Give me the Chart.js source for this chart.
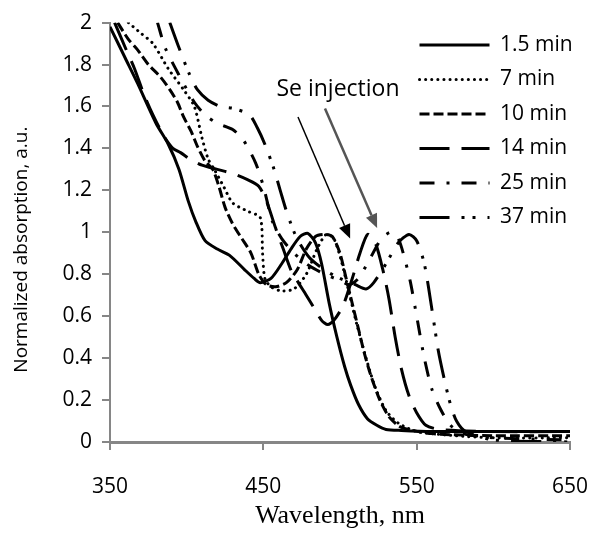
<!DOCTYPE html>
<html>
<head>
<meta charset="utf-8">
<script src="https://cdn.jsdelivr.net/npm/chart.js@4.4.0/dist/chart.umd.min.js"></script>
<style>
html,body{margin:0;padding:0;background:#fff;}
#wrap{width:592px;height:533px;}
</style>
</head>
<body>
<div id="wrap"><canvas id="canvas"></canvas></div>
<script>
// series labels
const seriesNames = ['1.5 min', '7 min', '10 min', '14 min', '25 min', '37 min'];

// wavelength (nm) / normalized absorption
const wl_1_5 = [350,360,368,380,388,395,401,406,412,420,428,438,444,448,455,462,468,474,479,484,488,493,498,503,507,512,518,524,530,540,560,600,650];
const ab_1_5 = [1.98,1.83,1.71,1.52,1.42,1.30,1.15,1.05,0.96,0.92,0.89,0.82,0.78,0.76,0.78,0.85,0.92,0.98,0.995,0.95,0.85,0.66,0.50,0.36,0.27,0.18,0.11,0.08,0.06,0.055,0.05,0.05,0.05];

const wl_7 = [362,370,378,388,398,405,410,414,418,424,430,440,448,449.5,451,455,462,470,478,485,491,496,501,506,511,517,523,530,538,550,575,600,650];
const ab_7 = [2.0,1.95,1.90,1.78,1.68,1.60,1.45,1.35,1.30,1.22,1.14,1.10,1.07,0.90,0.78,0.74,0.72,0.73,0.80,0.92,0.99,0.97,0.86,0.71,0.56,0.40,0.26,0.15,0.09,0.05,0.03,0.02,0.02];

const wl_10 = [355,362,368,375,383,389,394,398,403,407,412,417,421,425,430,436,442,447,452,458,465,472,478,484,490,495,500,504,508,512,516,520,526,532,540,560,600,650];
const ab_10 = [2.0,1.92,1.87,1.80,1.74,1.68,1.62,1.55,1.48,1.41,1.34,1.30,1.22,1.12,1.04,0.97,0.90,0.80,0.75,0.74,0.76,0.82,0.92,0.98,0.99,0.98,0.90,0.78,0.66,0.54,0.42,0.32,0.20,0.12,0.07,0.04,0.03,0.03];

const wl_14 = [353,360,366,372,378,385,391,396,402,410,420,430,440,447,452,458,463,468,472,478,483,488,492,496,502,508,513,518,523,528,532,536,540,545,550,556,565,600,650];
const ab_14 = [2.0,1.88,1.78,1.66,1.56,1.46,1.40,1.38,1.35,1.32,1.30,1.28,1.25,1.22,1.15,1.02,0.92,0.82,0.77,0.70,0.64,0.58,0.56,0.58,0.65,0.78,0.90,0.99,0.95,0.82,0.68,0.50,0.35,0.22,0.14,0.08,0.06,0.05,0.05];

const wl_25 = [381,386,395,405,412,420,430,437,445,450,456,462,470,480,490,500,506,512,520,527,533,538,542,546,550,555,560,566,572,580,600,650];
const ab_25 = [2.0,1.88,1.75,1.62,1.56,1.52,1.49,1.44,1.33,1.22,1.05,0.97,0.90,0.84,0.80,0.77,0.75,0.78,0.88,0.97,1.0,0.97,0.88,0.76,0.60,0.40,0.25,0.15,0.08,0.04,0.02,0.01];

const wl_37 = [389,395,402,407,414,422,431,441,446,451,457,461,466,472,480,490,500,510,517,522,530,538,545,550,555,560,564,568,572,576,582,600,650];
const ab_37 = [2.0,1.88,1.75,1.68,1.63,1.60,1.59,1.56,1.50,1.42,1.30,1.20,1.08,0.97,0.88,0.82,0.78,0.75,0.73,0.76,0.85,0.95,0.99,0.96,0.85,0.63,0.44,0.30,0.18,0.10,0.05,0.01,0.0];

// axis ticks
const xMin = 350, xMax = 650, xStep = 100;
const yMin = 0, yMax = 2, yStep = 0.2;

// annotation: "Se injection" arrows (data units)
const noteText = 'Se injection';
const noteAt = [498.7, 1.68];
const arrows = [
    {from: [472.6, 1.55], to: [506.6, 0.97], color: '#000000', width: 1.5},
    {from: [490.2, 1.59], to: [524.2, 1.02], color: '#555555', width: 2.5}
];

const toPts = (xs, ys) => xs.map((x, i) => ({x: x, y: ys[i]}));

const seriesData = [
    toPts(wl_1_5, ab_1_5),
    toPts(wl_7, ab_7),
    toPts(wl_10, ab_10),
    toPts(wl_14, ab_14),
    toPts(wl_25, ab_25),
    toPts(wl_37, ab_37)
];
const dashes = [[], [0.1, 6], [10, 4], [30, 12], [15, 12, 3, 12], [30, 12, 3, 8, 3, 12]];
const caps = ['butt', 'round', 'butt', 'butt', 'butt', 'butt'];

const datasets = seriesData.map((d, i) => ({
    label: seriesNames[i],
    data: d,
    borderColor: '#000',
    backgroundColor: '#000',
    borderWidth: 3,
    borderDash: dashes[i],
    borderCapStyle: caps[i],
    pointRadius: 0,
    tension: 0.25,
    fill: false
}));

const annotate = {
    id: 'annotate',
    afterLayout(chart) {
        // move the legend into the upper right of the plot
        const lg = chart.legend;
        lg.left = 406; lg.right = 592;
        lg.top = 21; lg.bottom = 300;
    },
    afterDatasetsDraw(chart) {
        const ctx = chart.ctx, xs = chart.scales.x, ys = chart.scales.y;
        ctx.save();
        ctx.font = '23px "Open Sans"';
        ctx.fillStyle = '#000';
        ctx.textAlign = 'center';
        ctx.textBaseline = 'middle';
        ctx.fillText(noteText, xs.getPixelForValue(noteAt[0]), ys.getPixelForValue(noteAt[1]));
        arrows.forEach(a => {
            const x1 = xs.getPixelForValue(a.from[0]), y1 = ys.getPixelForValue(a.from[1]);
            const x2 = xs.getPixelForValue(a.to[0]), y2 = ys.getPixelForValue(a.to[1]);
            const ang = Math.atan2(y2 - y1, x2 - x1);
            const hl = 14, hw = 6;
            ctx.strokeStyle = a.color;
            ctx.fillStyle = a.color;
            ctx.lineWidth = a.width;
            ctx.beginPath();
            ctx.moveTo(x1, y1);
            ctx.lineTo(x2 - Math.cos(ang) * hl, y2 - Math.sin(ang) * hl);
            ctx.stroke();
            ctx.beginPath();
            ctx.moveTo(x2, y2);
            ctx.lineTo(x2 - Math.cos(ang) * hl - Math.sin(ang) * hw, y2 - Math.sin(ang) * hl + Math.cos(ang) * hw);
            ctx.lineTo(x2 - Math.cos(ang) * hl + Math.sin(ang) * hw, y2 - Math.sin(ang) * hl - Math.cos(ang) * hw);
            ctx.closePath();
            ctx.fill();
        });
        ctx.restore();
    }
};

const axisGrey = '#868686';
const ctx = document.getElementById('canvas').getContext('2d');

const myChart = new Chart(ctx, {
    type: 'line',
    data: {datasets: datasets},
    plugins: [annotate],
    options: {
        responsive: true,
        maintainAspectRatio: false,
        animation: false,
        layout: {padding: {top: 20, right: 22, left: 0, bottom: 0}},
        plugins: {
            tooltip: {enabled: false},
            legend: {
                position: 'chartArea',
                align: 'start',
                labels: {
                    usePointStyle: true,
                    pointStyle: 'line',
                    pointStyleWidth: 70,
                    padding: 13.5,
                    color: '#000',
                    font: {family: '"Open Sans"', size: 21},
                    generateLabels(chart) {
                        const items = Chart.defaults.plugins.legend.labels.generateLabels(chart);
                        items.forEach((it, i) => {
                            const ds = chart.data.datasets[i];
                            it.lineDash = ds.borderDash;
                            it.lineWidth = ds.borderWidth;
                            it.strokeStyle = ds.borderColor;
                            it.lineCap = ds.borderCapStyle;
                            it.pointStyle = 'line';
                        });
                        return items;
                    }
                }
            }
        },
        scales: {
            x: {
                type: 'linear',
                min: xMin,
                max: xMax,
                afterFit(scale) {
                    scale.height = 91;
                    scale.paddingRight = 0;
                    scale.paddingLeft = 0;
                },
                ticks: {
                    stepSize: xStep,
                    color: '#000',
                    padding: 24,
                    maxRotation: 0,
                    font: {family: '"Open Sans"', size: 21}
                },
                grid: {drawOnChartArea: false, drawTicks: true, tickLength: 8, color: axisGrey, lineWidth: 2},
                border: {color: axisGrey, width: 3},
                title: {
                    display: true,
                    text: 'Wavelength, nm',
                    color: '#000',
                    font: {family: '"Liberation Serif"', size: 26},
                    padding: {top: 0, bottom: 1}
                }
            },
            y: {
                min: yMin,
                max: yMax,
                afterFit(scale) { scale.width = 110; },
                ticks: {
                    stepSize: yStep,
                    color: '#000',
                    padding: 10,
                    font: {family: '"Open Sans"', size: 21},
                    callback: v => String(+v.toFixed(1))
                },
                grid: {drawOnChartArea: false, drawTicks: true, tickLength: 8, color: axisGrey, lineWidth: 2},
                border: {color: axisGrey, width: 2},
                title: {
                    display: true,
                    // trailing spaces nudge the rotated text down a little
                    text: 'Normalized absorption, a.u.\u00a0\u00a0\u00a0\u00a0\u00a0\u00a0\u00a0',
                    color: '#000',
                    font: {family: '"Open Sans"', size: 19},
                    padding: {top: 10, bottom: 0}
                }
            }
        }
    }
});
</script>
</body>
</html>
